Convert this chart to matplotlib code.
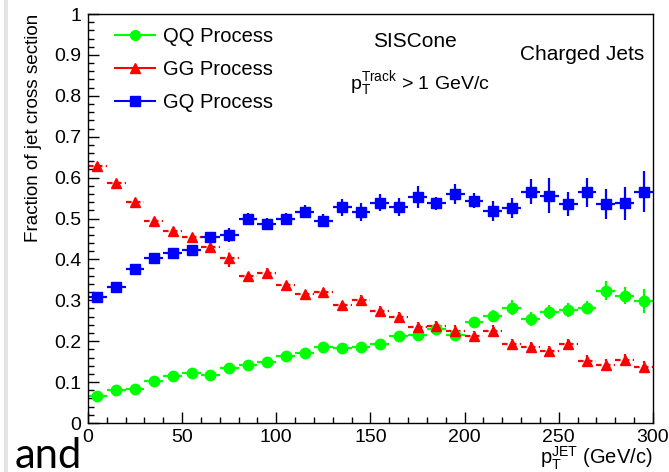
import matplotlib
matplotlib.use("Agg")
import matplotlib.pyplot as plt
from matplotlib.lines import Line2D
from matplotlib.ticker import MultipleLocator

plt.rcParams['font.family'] = ['Liberation Sans', 'DejaVu Sans']
plt.rcParams['mathtext.fontset'] = 'custom'
plt.rcParams['mathtext.rm'] = 'Liberation Sans'
plt.rcParams['mathtext.it'] = 'Liberation Sans'

# bin centres (GeV/c)
pt_bins = [5, 15, 25, 35, 45, 55, 65, 75, 85, 95, 105, 115, 125, 135, 145,
           155, 165, 175, 185, 195, 205, 215, 225, 235, 245, 255, 265, 275, 285, 295]

qq = [0.065, 0.080, 0.084, 0.102, 0.116, 0.123, 0.118, 0.135, 0.143, 0.148,
      0.163, 0.170, 0.186, 0.184, 0.187, 0.192, 0.212, 0.216, 0.229, 0.216,
      0.247, 0.261, 0.282, 0.254, 0.271, 0.277, 0.282, 0.323, 0.311, 0.298]
qq_err = [0.004, 0.004, 0.005, 0.005, 0.006, 0.006, 0.006, 0.007, 0.007, 0.008,
          0.008, 0.009, 0.009, 0.009, 0.010, 0.010, 0.011, 0.011, 0.012, 0.012,
          0.013, 0.015, 0.018, 0.018, 0.017, 0.017, 0.016, 0.023, 0.021, 0.030]

gg = [0.629, 0.586, 0.541, 0.494, 0.470, 0.455, 0.430, 0.403, 0.359, 0.366,
      0.337, 0.315, 0.320, 0.289, 0.301, 0.274, 0.260, 0.234, 0.236, 0.226,
      0.213, 0.226, 0.193, 0.185, 0.176, 0.192, 0.152, 0.143, 0.154, 0.138]
gg_err = [0.006, 0.006, 0.006, 0.007, 0.008, 0.009, 0.012, 0.022, 0.010, 0.012,
          0.010, 0.010, 0.011, 0.011, 0.012, 0.012, 0.012, 0.012, 0.013, 0.013,
          0.013, 0.013, 0.013, 0.013, 0.013, 0.014, 0.014, 0.013, 0.014, 0.014]

gq = [0.309, 0.333, 0.376, 0.404, 0.416, 0.423, 0.455, 0.460, 0.499, 0.487,
      0.500, 0.517, 0.495, 0.527, 0.515, 0.539, 0.527, 0.552, 0.537, 0.560,
      0.544, 0.519, 0.525, 0.566, 0.556, 0.535, 0.564, 0.535, 0.537, 0.566]
gq_err = [0.006, 0.007, 0.007, 0.008, 0.008, 0.009, 0.012, 0.018, 0.014, 0.014,
          0.014, 0.015, 0.015, 0.020, 0.022, 0.020, 0.022, 0.027, 0.016, 0.024,
          0.018, 0.025, 0.024, 0.030, 0.043, 0.030, 0.035, 0.037, 0.040, 0.049]

bin_half = 5

fig = plt.figure(figsize=(6.69, 4.72), dpi=100)
ax = fig.add_axes([0.1315, 0.1038, 0.8445, 0.8665])

ax.errorbar(pt_bins, qq, xerr=bin_half, yerr=qq_err, fmt='o', color='#00ff00',
            ms=7.5, elinewidth=1.6, capsize=0)
eb = ax.errorbar(pt_bins, gg, xerr=bin_half, yerr=gg_err, fmt='^', color='#ff0000',
                 ms=7.5, elinewidth=1.6, capsize=0)
for lc in eb[2]:
    lc.set_linestyle((0, (2.5, 1.5)))
ax.errorbar(pt_bins, gq, xerr=bin_half, yerr=gq_err, fmt='s', color='#0000ff',
            ms=7, elinewidth=1.6, capsize=0)

ax.set_xlim(0, 300)
ax.set_ylim(0, 1)
ax.xaxis.set_major_locator(MultipleLocator(50))
ax.xaxis.set_minor_locator(MultipleLocator(10))
ax.yaxis.set_minor_locator(MultipleLocator(0.02))
ax.set_yticks([0, 0.1, 0.2, 0.3, 0.4, 0.5, 0.6, 0.7, 0.8, 0.9, 1.0])
ax.set_yticklabels(['0', '0.1', '0.2', '0.3', '0.4', '0.5', '0.6', '0.7', '0.8', '0.9', '1'])
ax.tick_params(which='both', direction='in', labelsize=14, pad=5, width=1)
ax.tick_params(axis='x', pad=4)
ax.tick_params(which='major', length=8)
ax.tick_params(which='minor', length=4)
for s in ax.spines.values():
    s.set_linewidth(1)

handles = [
    Line2D([], [], color='#00ff00', marker='o', ms=7, lw=1.5),
    Line2D([], [], color='#ff0000', marker='^', ms=6.5, lw=1.5),
    Line2D([], [], color='#0000ff', marker='s', ms=6.5, lw=1.5),
]
ax.legend(handles, ['QQ Process', 'GG Process', 'GQ Process'], loc='upper left',
          bbox_to_anchor=(0.048, 0.968), frameon=False, fontsize=14.5,
          handlelength=2.0, handletextpad=0.4, labelspacing=0.7,
          borderpad=0, borderaxespad=0)

ax.text(0.579, 0.932, 'SISCone', transform=ax.transAxes, ha='center', va='center', fontsize=15)
ax.text(0.874, 0.900, 'Charged Jets', transform=ax.transAxes, ha='center', va='center', fontsize=15)
ax.text(0.588, 0.830, r'$\mathregular{p_T^{Track}}$ > 1 GeV/c', transform=ax.transAxes,
        ha='center', va='center', fontsize=14)

fig.text(34 / 669, 1 - 14 / 472, 'Fraction of jet cross section', rotation=90,
         ha='center', va='top', fontsize=13.6)
fig.text(653 / 669, 8 / 472, r'$\mathregular{p_T^{JET}}$ (GeV/c)', ha='right',
         va='baseline', fontsize=14.5)

# slide remnants
fig.add_artist(plt.Rectangle((4 / 669, 0), 4 / 669, 1, transform=fig.transFigure,
                             color='#e4e4e4', lw=0))
fig.text(15 / 669, 4 / 472, 'and', ha='left', va='baseline', fontsize=30,
         family=['Lato', 'DejaVu Sans'])

fig.savefig('out.png', dpi=100)
